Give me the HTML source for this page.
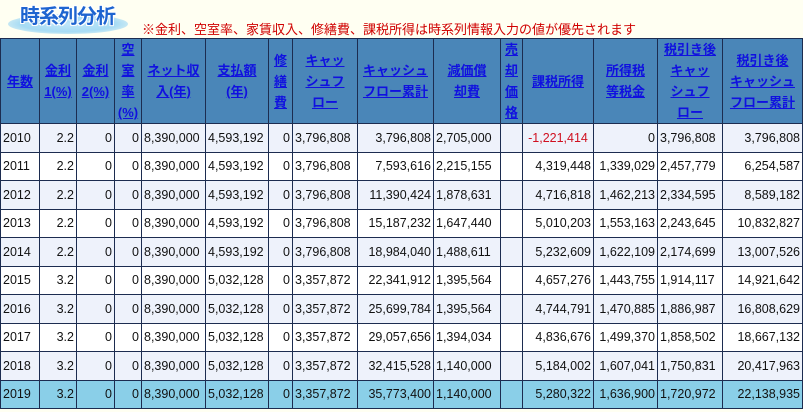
<!DOCTYPE html>
<html><head><meta charset="utf-8">
<style>
body{margin:0;background:#fffff2;width:803px;height:412px;overflow:hidden;font-family:"Liberation Sans","Noto Sans CJK JP",sans-serif;}
.ell{position:absolute;left:8px;top:14px;width:120px;height:20px;border-radius:50%;background:radial-gradient(ellipse at center,#bfe6fa 0%,#a6dbf4 55%,rgba(200,236,250,0) 100%);}
.title{position:absolute;left:20px;top:0px;font-size:20px;font-weight:bold;color:#1e64d0;letter-spacing:-1px;text-shadow:1px 1px 0 #fff,-1px -1px 0 #fff,1px -1px 0 #fff,-1px 1px 0 #fff;font-family:"Noto Sans CJK JP",sans-serif;}
.note{position:absolute;left:142px;top:19px;font-size:13px;color:#d00000;}
table{position:absolute;left:0;top:38px;border-collapse:collapse;table-layout:fixed;width:802px;}
td,th{border:1px solid #1c2c50;padding:0 2px;font-size:12.5px;white-space:nowrap;overflow:hidden;}
th{background:#4a86b8;height:84px;font-size:13px;line-height:21px;color:#1010e0;text-decoration:underline;font-weight:bold;padding:0 1px;white-space:normal;}
td{height:27.5px;color:#111;}
tr.l td{background:#eef2fb;}
tr.w td{background:#fff;}
tr.h td{background:#8acfe8;}
.r{text-align:right;}.c{text-align:center;}
.red{color:#d01020!important;}
</style></head><body>
<div class="ell"></div><div class="title">時系列分析</div>
<div class="note">※金利、空室率、家賃収入、修繕費、課税所得は時系列情報入力の値が優先されます</div>
<table>
<colgroup><col style="width:39px"><col style="width:37px"><col style="width:38px"><col style="width:27px"><col style="width:64px"><col style="width:63px"><col style="width:24px"><col style="width:65px"><col style="width:76px"><col style="width:67px"><col style="width:22px"><col style="width:71px"><col style="width:64px"><col style="width:65px"><col style="width:80px"></colgroup>
<tr><th>年数</th><th>金利<br>1(%)</th><th>金利<br>2(%)</th><th>空<br>室<br>率<br>(%)</th><th>ネット収<br>入(年)</th><th>支払額<br>(年)</th><th>修<br>繕<br>費</th><th>キャッ<br>シュフ<br>ロー</th><th>キャッシュ<br>フロー累計</th><th>減価償<br>却費</th><th>売<br>却<br>価<br>格</th><th>課税所得</th><th>所得税<br>等税金</th><th>税引き後<br>キャッ<br>シュフ<br>ロー</th><th>税引き後<br>キャッシュ<br>フロー累計</th></tr>
<tr class="l"><td>2010</td><td class="r">2.2</td><td class="r">0</td><td class="r">0</td><td>8,390,000</td><td>4,593,192</td><td class="r">0</td><td>3,796,808</td><td class="r">3,796,808</td><td>2,705,000</td><td></td><td class="c red">-1,221,414</td><td class="r">0</td><td>3,796,808</td><td class="r">3,796,808</td></tr>
<tr class="w"><td>2011</td><td class="r">2.2</td><td class="r">0</td><td class="r">0</td><td>8,390,000</td><td>4,593,192</td><td class="r">0</td><td>3,796,808</td><td class="r">7,593,616</td><td>2,215,155</td><td></td><td class="r">4,319,448</td><td class="r">1,339,029</td><td>2,457,779</td><td class="r">6,254,587</td></tr>
<tr class="l"><td>2012</td><td class="r">2.2</td><td class="r">0</td><td class="r">0</td><td>8,390,000</td><td>4,593,192</td><td class="r">0</td><td>3,796,808</td><td class="r">11,390,424</td><td>1,878,631</td><td></td><td class="r">4,716,818</td><td class="r">1,462,213</td><td>2,334,595</td><td class="r">8,589,182</td></tr>
<tr class="w"><td>2013</td><td class="r">2.2</td><td class="r">0</td><td class="r">0</td><td>8,390,000</td><td>4,593,192</td><td class="r">0</td><td>3,796,808</td><td class="r">15,187,232</td><td>1,647,440</td><td></td><td class="r">5,010,203</td><td class="r">1,553,163</td><td>2,243,645</td><td class="r">10,832,827</td></tr>
<tr class="l"><td>2014</td><td class="r">2.2</td><td class="r">0</td><td class="r">0</td><td>8,390,000</td><td>4,593,192</td><td class="r">0</td><td>3,796,808</td><td class="r">18,984,040</td><td>1,488,611</td><td></td><td class="r">5,232,609</td><td class="r">1,622,109</td><td>2,174,699</td><td class="r">13,007,526</td></tr>
<tr class="w"><td>2015</td><td class="r">3.2</td><td class="r">0</td><td class="r">0</td><td>8,390,000</td><td>5,032,128</td><td class="r">0</td><td>3,357,872</td><td class="r">22,341,912</td><td>1,395,564</td><td></td><td class="r">4,657,276</td><td class="r">1,443,755</td><td>1,914,117</td><td class="r">14,921,642</td></tr>
<tr class="l"><td>2016</td><td class="r">3.2</td><td class="r">0</td><td class="r">0</td><td>8,390,000</td><td>5,032,128</td><td class="r">0</td><td>3,357,872</td><td class="r">25,699,784</td><td>1,395,564</td><td></td><td class="r">4,744,791</td><td class="r">1,470,885</td><td>1,886,987</td><td class="r">16,808,629</td></tr>
<tr class="w"><td>2017</td><td class="r">3.2</td><td class="r">0</td><td class="r">0</td><td>8,390,000</td><td>5,032,128</td><td class="r">0</td><td>3,357,872</td><td class="r">29,057,656</td><td>1,394,034</td><td></td><td class="r">4,836,676</td><td class="r">1,499,370</td><td>1,858,502</td><td class="r">18,667,132</td></tr>
<tr class="l"><td>2018</td><td class="r">3.2</td><td class="r">0</td><td class="r">0</td><td>8,390,000</td><td>5,032,128</td><td class="r">0</td><td>3,357,872</td><td class="r">32,415,528</td><td>1,140,000</td><td></td><td class="r">5,184,002</td><td class="r">1,607,041</td><td>1,750,831</td><td class="r">20,417,963</td></tr>
<tr class="h"><td>2019</td><td class="r">3.2</td><td class="r">0</td><td class="r">0</td><td>8,390,000</td><td>5,032,128</td><td class="r">0</td><td>3,357,872</td><td class="r">35,773,400</td><td>1,140,000</td><td></td><td class="r">5,280,322</td><td class="r">1,636,900</td><td>1,720,972</td><td class="r">22,138,935</td></tr>
</table>
</body></html>
